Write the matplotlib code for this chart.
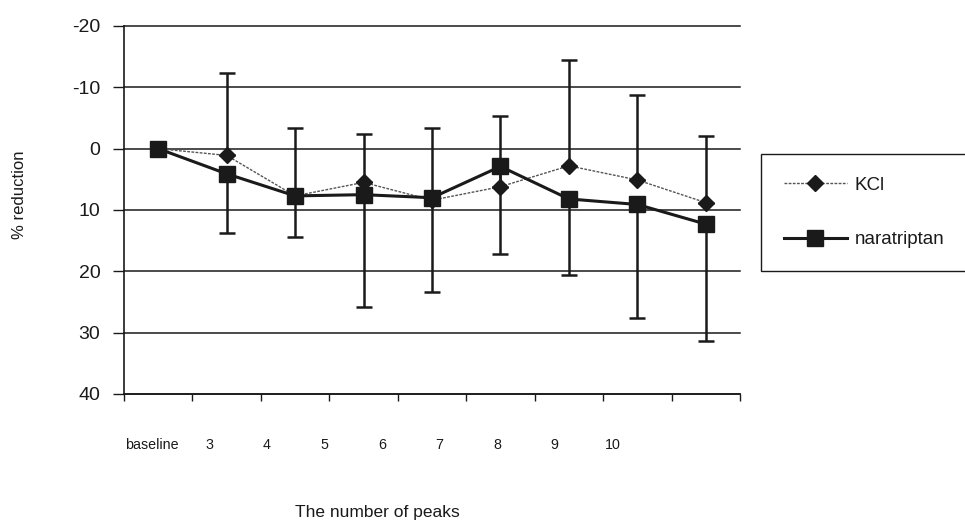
#!/usr/bin/env python3
"""
% reduction vs number of peaks, KCl vs naratriptan, with error bars
"""

import numpy as np
import matplotlib
matplotlib.use('Agg')
import matplotlib.pyplot as plt
from matplotlib.lines import Line2D

# Data (y axis is reversed: negative values on top)
categories = ['baseline', '3', '4', '5', '6', '7', '8', '9', '10']
kcl = [0, 1.1, 7.7, 5.5, 8.4, 6.2, 2.8, 5.1, 8.8]
kcl_err = [0, 13.5, 11.0, 7.9, 11.7, 11.6, 17.3, 13.9, 10.8]      # drawn upward only
naratriptan = [0, 4.1, 7.7, 7.5, 8.0, 2.9, 8.2, 9.1, 12.3]
nara_err = [0, 9.6, 6.7, 18.3, 15.3, 14.2, 12.4, 18.5, 19.0]      # drawn downward only
y_ticks = [-20, -10, 0, 10, 20, 30, 40]

plt.rcParams['font.family'] = ['Liberation Sans', 'DejaVu Sans']
INK = '#1a1a1a'


def plot_chart():
    fig = plt.figure(figsize=(9.65, 5.24), dpi=100)
    ax = fig.add_axes([124 / 965, 1 - 394 / 524, 616 / 965, 368 / 524])

    x = np.arange(len(categories))
    kcl_a = np.array(kcl)
    nara_a = np.array(naratriptan)
    zeros = np.zeros(len(categories))

    # error bars: KCl towards the top, naratriptan towards the bottom
    ax.errorbar(x, kcl_a, yerr=[np.array(kcl_err), zeros], fmt='none',
                ecolor=INK, elinewidth=1.8, capsize=6, capthick=1.8, zorder=3)
    ax.errorbar(x, nara_a, yerr=[zeros, np.array(nara_err)], fmt='none',
                ecolor=INK, elinewidth=1.8, capsize=6, capthick=1.8, zorder=3)

    # series lines
    ax.plot(x, kcl_a, color='#555555', linewidth=1.0, linestyle=(0, (2, 1)),
            marker='D', markersize=8, markerfacecolor=INK, markeredgecolor=INK,
            zorder=4)
    ax.plot(x, nara_a, color=INK, linewidth=2.2,
            marker='s', markersize=11, markerfacecolor=INK, markeredgecolor=INK,
            zorder=5)

    # axes
    ax.set_xlim(-0.5, len(categories) - 0.5)
    ax.set_ylim(40, -20)
    ax.set_yticks(y_ticks)
    ax.set_yticklabels([str(v) for v in y_ticks], fontsize=14, color=INK)
    ax.tick_params(axis='y', direction='out', length=8, width=1.0, pad=9, colors=INK)

    # x: tick marks between categories, labels on minor ticks
    ax.set_xticks(np.arange(-0.5, len(categories), 1.0))
    ax.set_xticklabels([])
    ax.tick_params(axis='x', which='major', direction='out', length=5, width=1.0, colors=INK)
    label_pos = -0.1 + 0.842 * np.arange(len(categories))
    ax.set_xticks(label_pos, minor=True)
    ax.set_xticklabels(categories, minor=True, fontsize=10.3, color=INK)
    ax.tick_params(axis='x', which='minor', length=0, pad=32)

    for side in ['top', 'right']:
        ax.spines[side].set_visible(False)
    for side in ['left', 'bottom']:
        ax.spines[side].set_color(INK)
        ax.spines[side].set_linewidth(1.2)

    ax.yaxis.grid(True, color=INK, linewidth=1.1)
    ax.set_axisbelow(True)
    for gl in ax.get_ygridlines():
        gl.set_clip_on(False)

    # labels
    fig.text(20 / 965, 1 - 195 / 524, '% reduction', rotation=90,
             ha='center', va='center', fontsize=12, color=INK)
    fig.text(377 / 965, 1 - 512 / 524, 'The number of peaks',
             ha='center', va='center', fontsize=12.5, color=INK)

    # legend
    handles = [
        Line2D([], [], color='#555555', linewidth=1.0, linestyle=(0, (2, 1)),
               marker='D', markersize=8, markerfacecolor=INK, markeredgecolor=INK),
        Line2D([], [], color=INK, linewidth=2.2,
               marker='s', markersize=11, markerfacecolor=INK, markeredgecolor=INK),
    ]
    leg = fig.legend(handles, ['KCl', 'naratriptan'], loc='upper left',
                     bbox_to_anchor=(761 / 965, 1 - 154 / 524), borderaxespad=0,
                     fontsize=13.5, frameon=True, fancybox=False, shadow=False,
                     handlelength=3.4, handletextpad=0.4,
                     labelspacing=2.0, borderpad=1.2, numpoints=1)
    leg.get_frame().set_edgecolor(INK)
    leg.get_frame().set_linewidth(1.0)
    leg.get_frame().set_alpha(1)
    for t in leg.get_texts():
        t.set_color(INK)

    fig.savefig('out.png', dpi=100)


if __name__ == '__main__':
    plot_chart()
